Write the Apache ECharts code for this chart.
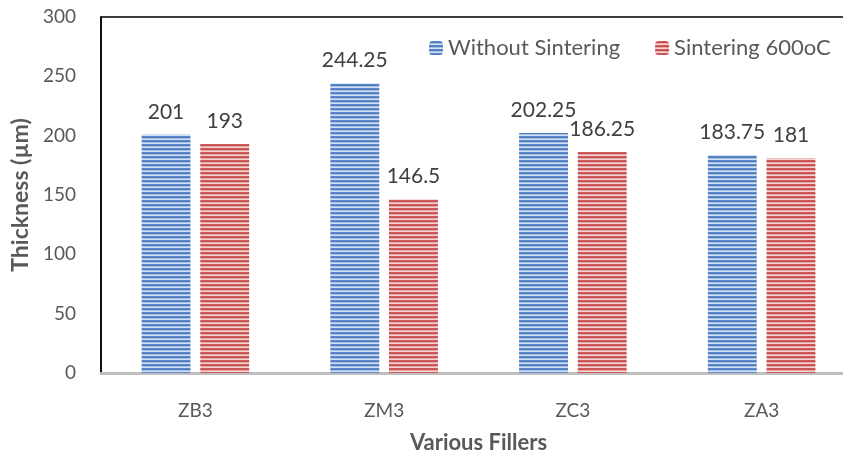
<!DOCTYPE html>
<html><head><meta charset="utf-8">
<script src="https://cdn.jsdelivr.net/npm/echarts@6/dist/echarts.min.js"></script>
<style>html,body{margin:0;padding:0;background:#fff}#c{width:843px;height:459px}</style>
</head><body><div id="c"></div>
<script>
const categories = ['ZB3', 'ZM3', 'ZC3', 'ZA3'];
const withoutSintering = [201, 244.25, 202.25, 183.75];
const sintering600 = [193, 146.5, 186.25, 181];
const seriesNames = ['Without Sintering', 'Sintering 600oC'];

function stripe(cols) {
  const c = document.createElement('canvas');
  c.width = 4; c.height = cols.length;
  const g = c.getContext('2d');
  cols.forEach((col, i) => { g.fillStyle = col; g.fillRect(0, i, 4, 1); });
  return { image: c, repeat: 'repeat' };
}
const bluePat = stripe(['#5b87c8', '#4f7cc0', '#a8c2e6', '#d3e0f3']);
const redPat = stripe(['#cc5a5a', '#c65050', '#e8a8a8', '#f3d3d3']);

const font = 'Lato, "Open Sans", sans-serif';
const chart = echarts.init(document.getElementById('c'), null, { renderer: 'canvas' });
chart.setOption({
  animation: false,
  textStyle: { fontFamily: font },
  grid: { left: 101, top: 17, width: 755, height: 356, show: true, borderColor: '#000', borderWidth: 1.5,
          backgroundColor: 'transparent', containLabel: false, outerBoundsMode: 'none' },
  legend: {
    data: seriesNames, left: 424, top: 32, itemWidth: 14, itemHeight: 14, itemGap: 35,
    textStyle: { fontSize: 22, color: '#595959', fontFamily: font }
  },
  xAxis: {
    type: 'category', data: categories,
    name: 'Various Fillers', nameLocation: 'middle', nameGap: 59,
    nameTextStyle: { fontSize: 22, fontWeight: 'bold', color: '#595959', fontFamily: font },
    axisLine: { lineStyle: { color: '#bfbfbf', width: 3 } },
    axisTick: { show: false },
    axisLabel: { fontSize: 19, color: '#595959', margin: 28, fontFamily: font }
  },
  yAxis: {
    type: 'value', min: 0, max: 300, interval: 50,
    name: 'Thickness (µm)', nameLocation: 'middle', nameGap: 69,
    nameTextStyle: { fontSize: 23, fontWeight: 'bold', color: '#595959', fontFamily: font },
    axisLine: { show: true, lineStyle: { color: '#000', width: 1.5 } },
    axisTick: { show: false },
    splitLine: { show: false },
    axisLabel: { fontSize: 19, color: '#595959', margin: 25, fontFamily: font }
  },
  series: [
    { name: seriesNames[0], type: 'bar', data: withoutSintering, barGap: '20%', barCategoryGap: '43%',
      itemStyle: { color: bluePat },
      label: { show: true, position: 'top', distance: 12, fontSize: 21, color: '#404040', fontFamily: font } },
    { name: seriesNames[1], type: 'bar', data: sintering600,
      itemStyle: { color: redPat },
      label: { show: true, position: 'top', distance: 12, fontSize: 21, color: '#404040', fontFamily: font } }
  ]
});
</script></body></html>
